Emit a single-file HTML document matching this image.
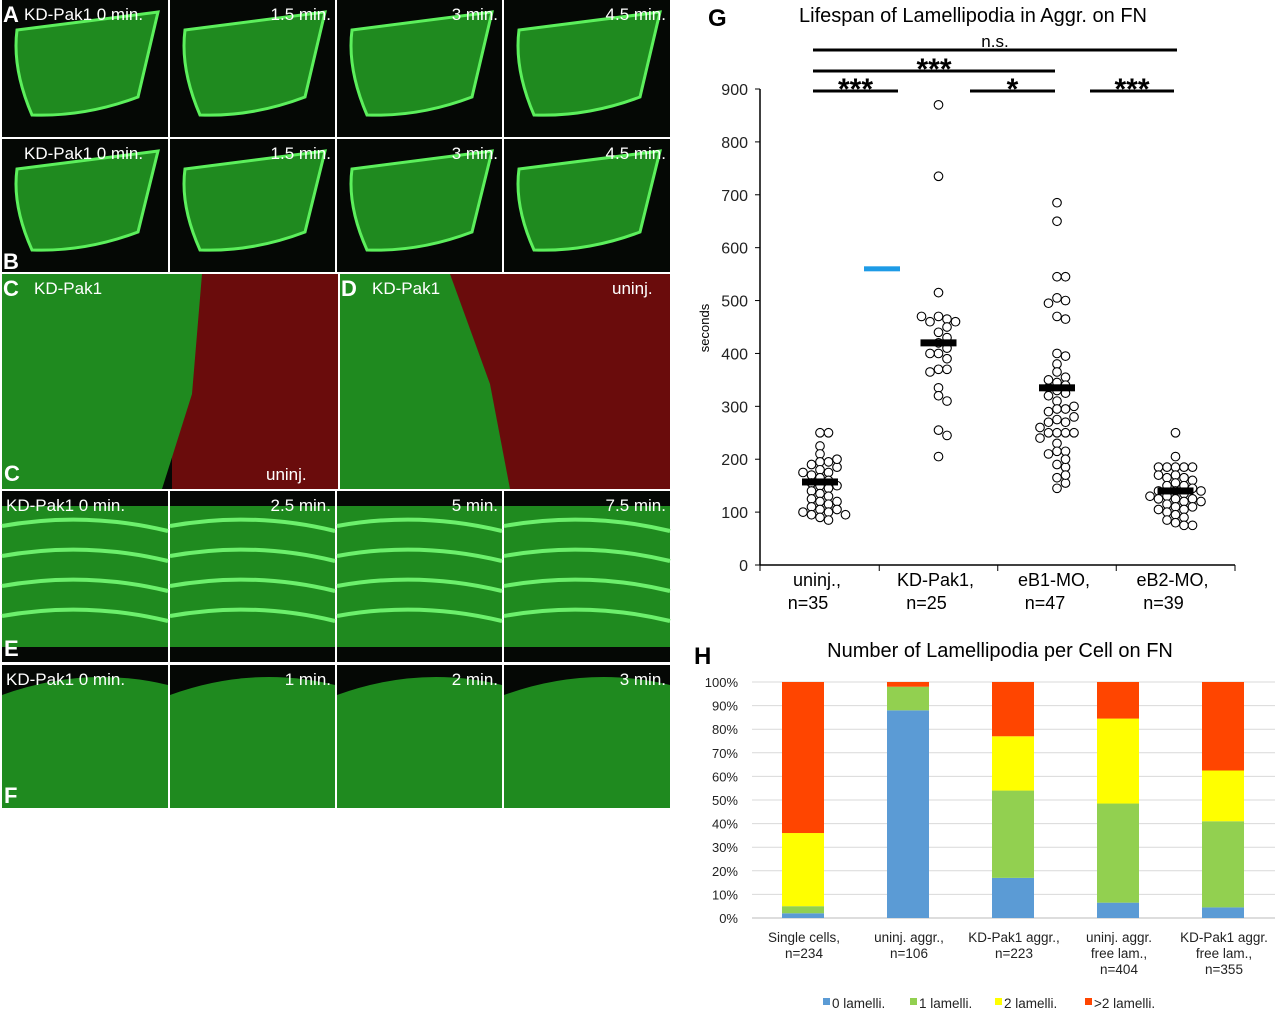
<!DOCTYPE html>
<html><head><meta charset="utf-8"><style>
body{margin:0;width:1280px;height:1015px;background:#fff;overflow:hidden;font-family:"Liberation Sans",sans-serif}
svg{position:absolute;left:0;top:0}
</style></head><body>
<svg id="fig" width="1280" height="1015" font-family="Liberation Sans, sans-serif">
<g id="micro"></g>
<g id="chartG"></g>
<g id="chartH"></g>
</svg>
<script>
// ---- Chart G data ----
const gCategories=["uninj.,","KD-Pak1,","eB1-MO,","eB2-MO,"];
const gCounts=["n=35","n=25","n=47","n=39"];
const gUninj=[250,250,225,210,195,195,190,185,180,175,170,165,160,155,150,150,145,140,135,130,125,120,120,115,110,105,105,100,100,95,95,90,85,175,200];
const gKD=[870,735,515,470,465,460,460,440,420,410,400,400,370,370,365,335,320,310,255,245,205,430,390,470,450];
const gEB1=[685,650,545,545,505,500,495,470,465,400,395,380,365,355,345,340,335,330,325,320,310,295,295,290,275,270,270,250,250,250,250,230,215,215,210,190,185,165,155,145,260,280,300,350,240,200,170];
const gEB2=[250,205,185,185,185,185,185,170,165,165,160,155,150,150,145,140,140,140,135,130,125,125,125,120,120,115,110,110,105,105,100,95,90,85,80,75,75,170,130];
const gMeans=[157,420,335,140];
const gTicks=[0,100,200,300,400,500,600,700,800,900];
// ---- Chart H data ----
const hCategories=[["Single cells,","n=234"],["uninj. aggr.,","n=106"],["KD-Pak1 aggr.,","n=223"],["uninj. aggr.","free lam.,","n=404"],["KD-Pak1 aggr.","free lam.,","n=355"]];
const h0=[2,88,17,6.5,4.5];
const h1=[3,10,37,42,36.5];
const h2=[31,0,23,36,21.5];
const h3=[64,2,23,15.5,37.5];
const hSeriesNames=["0 lamelli.","1 lamelli.","2 lamelli.",">2 lamelli."];
const hTicks=[0,10,20,30,40,50,60,70,80,90,100];

const NS="http://www.w3.org/2000/svg";
function mk(parent,tag,attrs,text){const e=document.createElementNS(NS,tag);for(const k in attrs)e.setAttribute(k,attrs[k]);if(text!==undefined)e.textContent=text;parent.appendChild(e);return e;}

// ---- Microscopy panels ----
const M=document.getElementById('micro');
const panels=[
 [2,0,166,137,"KD-Pak1  0 min.","A"],[170,0,165,137,"1.5 min."],[337,0,165,137,"3 min."],[504,0,166,137,"4.5 min."],
 [2,139,166,133,"KD-Pak1  0 min.","B"],[170,139,165,133,"1.5 min."],[337,139,165,133,"3 min."],[504,139,166,133,"4.5 min."],
 [2,274,336,215,"KD-Pak1","C"],[340,274,330,215,"KD-Pak1","D"],
 [2,491,166,171,"KD-Pak1     0 min."],[170,491,165,171,"2.5 min."],[337,491,165,171,"5 min."],[504,491,166,171,"7.5 min."],
 [2,665,166,143,"KD-Pak1     0 min."],[170,665,165,143,"1 min."],[337,665,165,143,"2 min."],[504,665,166,143,"3 min."]];
panels.forEach((p,i)=>{
 const [x,y,w,h,lab]=p;
 const r=mk(M,'rect',{x,y,width:w,height:h,fill:'#050805'});
 
 
 if(i<8){
   mk(M,'path',{d:`M${x+15} ${y+30} L${x+w-10} ${y+12} L${x+w-30} ${y+h-40} Q${x+w/2} ${y+h-20} ${x+30} ${y+h-22} Q${x+10} ${y+h/2} ${x+15} ${y+30} Z`,fill:'#1f8a1f',stroke:'#5cf05c','stroke-width':3});
 } else if(i===8){
   mk(M,'rect',{x:x+170,y:y,width:166,height:h,fill:'#6a0c0c'});
   mk(M,'path',{d:`M${x} ${y} L${x+200} ${y} L${x+190} ${y+120} L${x+160} ${y+215} L${x} ${y+215} Z`,fill:'#1f8a1f'});
 } else if(i===9){
   mk(M,'rect',{x:x+110,y:y,width:220,height:h,fill:'#6a0c0c'});
   mk(M,'path',{d:`M${x} ${y} L${x+110} ${y} L${x+150} ${y+110} L${x+170} ${y+215} L${x} ${y+215} Z`,fill:'#1f8a1f'});
 } else if(i<14){
   mk(M,'rect',{x:x,y:y+15,width:w,height:h-30,fill:'#1f8a1f'});
   for(let k=0;k<4;k++)mk(M,'path',{d:`M${x} ${y+35+k*30} Q${x+w/2} ${y+20+k*30} ${x+w} ${y+40+k*30}`,stroke:'#6cf06c','stroke-width':4,fill:'none'});
 } else {
   mk(M,'path',{d:`M${x} ${y+30} Q${x+w/2} ${y} ${x+w} ${y+20} L${x+w} ${y+h} L${x} ${y+h} Z`,fill:'#1f8a1f'});
 }
 const t=mk(M,'text',{x:x+w-4,y:y+20,'text-anchor':'end','font-size':17,fill:'#fff'},lab);
 if(lab.startsWith('KD')){t.setAttribute('x',x+(p[5]==='C'||p[5]==='D'?32:(p[5]?22:4)));t.setAttribute('text-anchor','start');}
 if(p[5]){mk(M,'text',{x:x+1,y:(p[5]==='B'?y+h-3:y+22),'font-size':22,'font-weight':'bold',fill:'#fff'},p[5]);}
});
mk(M,'text',{x:4,y:481,'font-size':22,'font-weight':'bold',fill:'#fff'},"C");
mk(M,'text',{x:4,y:656,'font-size':22,'font-weight':'bold',fill:'#fff'},"E");
mk(M,'text',{x:4,y:803,'font-size':22,'font-weight':'bold',fill:'#fff'},"F");
mk(M,'text',{x:266,y:480,'font-size':17,fill:'#fff'},"uninj.");
mk(M,'text',{x:612,y:294,'font-size':17,fill:'#fff'},"uninj.");

// ---- Chart G ----
const G=document.getElementById('chartG');
const gx0=760,gx1=1235,gy0=565,gy900=89;
const yG=v=>gy0-(v/900)*(gy0-gy900);
const xG=i=>820+i*118.5;
mk(G,'text',{x:708,y:26,'font-size':24,'font-weight':'bold'},"G");
mk(G,'text',{x:973,y:22,'font-size':20,'text-anchor':'middle'},"Lifespan of Lamellipodia in Aggr. on FN");
mk(G,'line',{x1:gx0,y1:yG(900),x2:gx0,y2:gy0,stroke:'#000','stroke-width':1.5});
mk(G,'line',{x1:gx0,y1:gy0,x2:gx1,y2:gy0,stroke:'#000','stroke-width':1.5});
gTicks.forEach(t=>{mk(G,'line',{x1:gx0-5,y1:yG(t),x2:gx0,y2:yG(t),stroke:'#000'});
 const e=mk(G,'text',{x:gx0-12,y:yG(t)+6,'font-size':16,'text-anchor':'end',fill:'#222'},String(t));
 });
[0,1,2,3,4].forEach(i=>{const xx=i===0?gx0:(i===4?gx1:(xG(i-1)+xG(i))/2);mk(G,'line',{x1:xx,y1:gy0,x2:xx,y2:gy0+6,stroke:'#000'});});
mk(G,'text',{x:709,y:328,'font-size':13,'text-anchor':'middle',transform:'rotate(-90 709 328)'},"seconds");
gCategories.forEach((c,i)=>{mk(G,'text',{x:xG(i)-3,y:586,'font-size':18,'text-anchor':'middle'},c);mk(G,'text',{x:xG(i)-12,y:609,'font-size':18,'text-anchor':'middle'},gCounts[i]);});
[gUninj,gKD,gEB1,gEB2].forEach((arr,i)=>{
 const placed=[];
 arr.forEach(v=>{const y=yG(v);let off=0;
  for(let k=0;k<12;k++){const o=(k%2?1:-1)*Math.ceil(k/2)*8.5;if(placed.every(p=>Math.hypot(p[0]-o,p[1]-y)>=7.5)){off=o;break;}}
  placed.push([off,y]);
  const c=mk(G,'circle',{cx:xG(i)+off,cy:y,r:4.3,fill:'#fff',stroke:'#000','stroke-width':1.1});
  });
 const m=mk(G,'rect',{x:xG(i)-18,y:yG(gMeans[i])-3.5,width:36,height:7,fill:'#000'});
 
});
mk(G,'rect',{x:864,y:yG(560)-2.5,width:36,height:5,fill:'#1e9be6'});
function sig(x1,x2,y,label){mk(G,'line',{x1,y1:y,x2,y2:y,stroke:'#000','stroke-width':3});
 if(label==='n.s.')mk(G,'text',{x:(x1+x2)/2,y:y-3,'font-size':17,'text-anchor':'middle'},label);
 else mk(G,'text',{x:(x1+x2)/2,y:y+8,'font-size':30,'font-weight':'bold','text-anchor':'middle'},label);}
sig(813,1177,50,"n.s.");sig(813,1055,71,"***");sig(813,898,91,"***");sig(970,1055,91,"*");sig(1090,1174,91,"***");

// ---- Chart H ----
const H=document.getElementById('chartH');
const hy0=918,hy100=682,hxL=752,hxR=1275;
const yH=v=>hy0-(v/100)*(hy0-hy100);
const xH=i=>803+i*105;
mk(H,'text',{x:694,y:664,'font-size':24,'font-weight':'bold'},"H");
mk(H,'text',{x:1000,y:657,'font-size':20,'text-anchor':'middle'},"Number of Lamellipodia per Cell on FN");
hTicks.forEach(t=>{mk(H,'line',{x1:hxL,y1:yH(t),x2:hxR,y2:yH(t),stroke:t===0?'#bbb':'#d9d9d9'});
 mk(H,'text',{x:738,y:yH(t)+5,'font-size':13,'text-anchor':'end',fill:'#222'},t+"%");});
const colors=["#5b9bd5","#92d050","#ffff00","#ff4500"];
hCategories.forEach((c,i)=>{let acc=0;
 [h0,h1,h2,h3].forEach((s,j)=>{const v=s[i];
  const r=mk(H,'rect',{x:xH(i)-21,y:yH(acc+v),width:42,height:yH(acc)-yH(acc+v),fill:colors[j]});
  acc+=v;});
 c.forEach((l,k)=>mk(H,'text',{x:xH(i)+1,y:942+k*16,'font-size':13.5,'text-anchor':'middle',fill:'#222'},l));
});
const lx=[823,910,995,1085];
hSeriesNames.forEach((n,j)=>{mk(H,'rect',{x:lx[j],y:998,width:7,height:7,fill:colors[j]});
 const t=mk(H,'text',{x:lx[j]+9,y:1008,'font-size':13.5,fill:'#222'},n);});
</script>
</body></html>
